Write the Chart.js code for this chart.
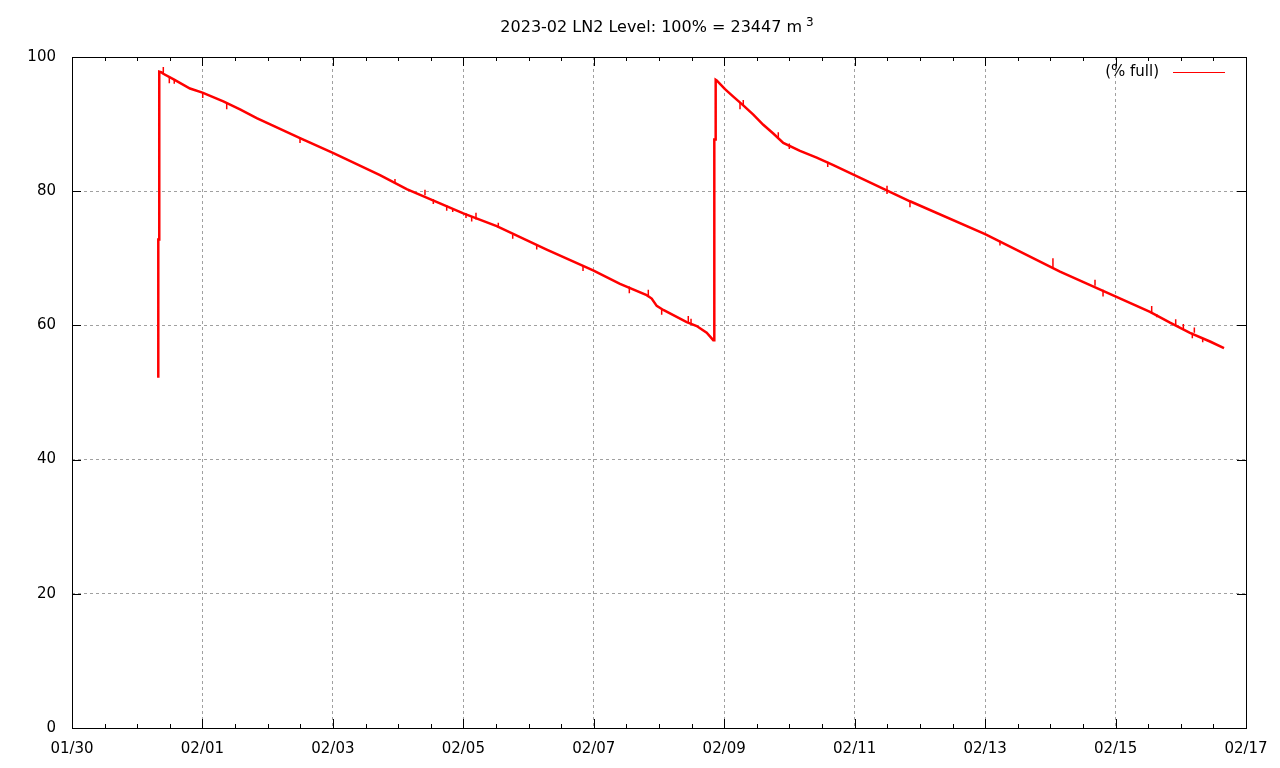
<!DOCTYPE html>
<html>
<head>
<meta charset="utf-8">
<script src="https://cdn.jsdelivr.net/npm/chart.js@4/dist/chart.umd.min.js"></script>
<style>
  html, body { margin: 0; padding: 0; background: #fff; }
  #wrap { width: 1280px; height: 768px; }
</style>
</head>
<body>
<div id="wrap"><canvas id="ln2Chart" width="1280" height="768"></canvas></div>
<script>
// x values are days since 01/30 00:00
const xTickLabels = ['01/30', '02/01', '02/03', '02/05', '02/07', '02/09', '02/11', '02/13', '02/15', '02/17'];

const levelDays = [1.323, 1.323, 1.338, 1.338, 1.375, 1.400, 1.553, 1.809, 2.000,
  2.320, 2.576, 2.832, 3.496, 4.000, 4.722, 5.132, 6.000, 6.512, 7.278,
  7.990, 8.402, 8.811, 8.888, 8.965, 9.066, 9.425, 9.578, 9.731, 9.832,
  9.848, 9.848, 9.869, 9.869, 9.885, 9.935, 10.012, 10.139, 10.292, 10.446,
  10.599, 10.752, 10.906, 11.162, 11.418, 11.673, 12.848, 14.000, 15.148, 16.528,
  16.835, 17.141, 17.448, 17.663];
const levelPct = [52.2, 72.8, 72.8, 97.8, 97.7, 97.5, 96.7, 95.3, 94.7,
  93.4, 92.2, 90.9, 87.9, 85.7, 82.4, 80.3, 76.7, 74.8, 71.3,
  68.2, 66.2, 64.5, 64.0, 62.9, 62.3, 60.5, 59.9, 58.9, 57.8,
  57.8, 87.7, 87.7, 96.6, 96.5, 96.0, 95.2, 94.1, 92.8, 91.4,
  89.9, 88.6, 87.2, 86.0, 85.0, 83.9, 78.5, 73.6, 68.0, 62.0,
  60.4, 58.9, 57.6, 56.6];

// short noisy readings (vertical spikes)
const spikeDays = [1.400, 1.492, 1.568, 2.004, 2.372, 3.496, 4.952, 5.412, 5.540, 5.745,
  5.837, 6.041, 6.128, 6.194, 6.536, 6.757, 7.125, 7.835, 8.545, 8.836,
  9.041, 9.449, 9.491, 10.242, 10.292, 10.829, 10.998, 11.587, 12.496, 12.848,
  14.228, 15.040, 15.685, 15.808, 16.554, 16.631, 16.922, 17.039, 17.177, 17.208, 17.336];
const spikeLow = [97.5, 96.1, 96.0, 93.9, 92.2, 87.2, 81.2, 79.4, 78.1, 77.1,
  76.9, 76.0, 75.5, 75.8, 74.6, 72.9, 71.3, 68.1, 64.8, 64.4,
  61.6, 60.5, 60.3, 92.2, 92.8, 88.0, 86.3, 83.6, 79.6, 77.6,
  71.9, 68.6, 65.9, 64.3, 61.7, 61.2, 60.0, 59.4, 58.1, 58.9, 57.5];
const spikeHigh = [98.5, 96.9, 96.7, 94.7, 93.1, 88.0, 81.8, 80.2, 78.8, 77.9,
  77.5, 76.7, 76.2, 76.8, 75.3, 73.5, 71.9, 69.0, 65.8, 65.3,
  62.4, 61.4, 61.0, 93.2, 93.6, 88.8, 87.1, 84.4, 80.8, 78.5,
  72.6, 70.0, 66.8, 65.3, 62.9, 61.7, 60.9, 60.2, 58.9, 59.7, 58.1];

const FONT = 'DejaVu Sans';
const GRID = '#a0a0a0';

const levelPoints = levelDays.map((d, i) => ({ x: d, y: levelPct[i] }));
const spikePoints = [];
spikeDays.forEach((d, i) => {
  spikePoints.push({ x: d, y: spikeLow[i] }, { x: d, y: spikeHigh[i] }, { x: d, y: null });
});

// gnuplot-like frame, inward ticks, title and key
const gnuplotFrame = {
  id: 'gnuplotFrame',
  afterDraw(chart) {
    const { ctx, chartArea: a, scales: { x, y } } = chart;
    ctx.save();
    ctx.strokeStyle = '#000';
    ctx.lineWidth = 1;
    ctx.beginPath();
    for (let v = 0; v <= 18; v += 0.5) {
      const px = Math.round(x.getPixelForValue(v)) + 0.5;
      const len = (v % 2 === 0) ? 9 : 4;
      ctx.moveTo(px, a.bottom); ctx.lineTo(px, a.bottom - len);
      ctx.moveTo(px, a.top); ctx.lineTo(px, a.top + len);
    }
    for (let v = 0; v <= 100; v += 20) {
      const py = Math.round(y.getPixelForValue(v)) + 0.5;
      ctx.moveTo(a.left, py); ctx.lineTo(a.left + 9, py);
      ctx.moveTo(a.right, py); ctx.lineTo(a.right - 9, py);
    }
    ctx.stroke();
    ctx.strokeRect(Math.round(a.left) + 0.5, Math.round(a.top) + 0.5,
      Math.round(a.right - a.left), Math.round(a.bottom - a.top));

    // title with superscript
    ctx.fillStyle = '#000';
    ctx.textBaseline = 'alphabetic';
    ctx.font = '16px ' + FONT;
    const main = '2023-02 LN2 Level: 100% = 23447 m';
    const w1 = ctx.measureText(main).width;
    ctx.font = '12px ' + FONT;
    const w2 = ctx.measureText('3').width;
    const x0 = 657 - (w1 + 4 + w2) / 2;
    ctx.font = '16px ' + FONT;
    ctx.textAlign = 'left';
    ctx.fillText(main, x0, 32);
    ctx.font = '12px ' + FONT;
    ctx.fillText('3', x0 + w1 + 4, 26);

    // key
    ctx.font = '15px ' + FONT;
    ctx.textAlign = 'right';
    ctx.textBaseline = 'middle';
    ctx.fillText('(% full)', 1159, 72);
    ctx.strokeStyle = '#ff0000';
    ctx.beginPath();
    ctx.moveTo(1173, 72.5); ctx.lineTo(1225, 72.5);
    ctx.stroke();
    ctx.restore();
  }
};

new Chart(document.getElementById('ln2Chart'), {
  type: 'line',
  data: {
    datasets: [
      { data: levelPoints, borderColor: '#ff0000', borderWidth: 2.5, pointRadius: 0, tension: 0, fill: false },
      { data: spikePoints, borderColor: '#ff0000', borderWidth: 1.5, pointRadius: 0, tension: 0, fill: false, spanGaps: false },
    ],
  },
  options: {
    responsive: false, animation: false, events: [],
    layout: { padding: { left: 0, right: 34, top: 57, bottom: 0 } },
    plugins: { legend: { display: false }, tooltip: { enabled: false }, title: { display: false } },
    scales: {
      x: {
        type: 'linear', min: 0, max: 18,
        afterFit: s => { s.height = 40; },
        border: { display: false, dash: [3, 3] },
        grid: { drawTicks: false, color: c => (c.tick && c.tick.value > 0 && c.tick.value < 18) ? GRID : 'rgba(0,0,0,0)' },
        ticks: {
          stepSize: 2, autoSkip: false, maxRotation: 0, padding: 12, color: '#000',
          font: { family: FONT, size: 15 },
          callback: v => xTickLabels[v / 2] || '',
        },
      },
      y: {
        min: 0, max: 100,
        afterFit: s => { s.width = 72; },
        border: { display: false, dash: [3, 3] },
        grid: { drawTicks: false, color: c => (c.tick && c.tick.value > 0 && c.tick.value < 100) ? GRID : 'rgba(0,0,0,0)' },
        ticks: { stepSize: 20, padding: 16, color: '#000', font: { family: FONT, size: 15 } },
      },
    },
  },
  plugins: [gnuplotFrame],
});
</script>
</body>
</html>
